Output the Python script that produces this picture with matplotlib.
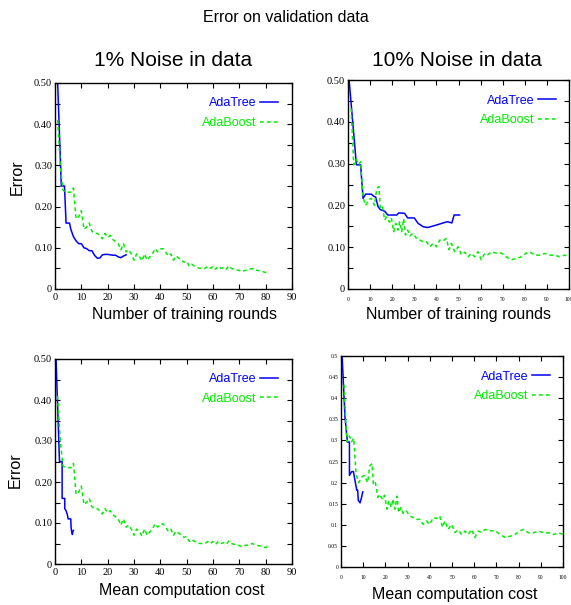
import matplotlib
matplotlib.use('Agg')
import matplotlib.pyplot as plt

# 1% noise, error against training rounds
tl_tree_x = [1, 2.4, 3.6, 4.2, 5.5, 6, 7, 8, 9, 10, 11, 12, 13, 14, 15, 16, 17, 18, 19, 20, 21, 22, 23, 24, 25, 26, 27]
tl_tree_y = [0.50, 0.25, 0.25, 0.16, 0.16, 0.145, 0.127, 0.117, 0.11, 0.11, 0.10, 0.098, 0.093, 0.093, 0.082,
             0.075, 0.075, 0.083, 0.084, 0.084, 0.083, 0.082, 0.082, 0.078, 0.076, 0.08, 0.083]
boost1_x = list(range(1, 82))
boost1_y = [0.41, 0.30, 0.24, 0.235, 0.235, 0.235, 0.245, 0.17, 0.175, 0.19,
            0.145, 0.15, 0.16, 0.14, 0.135, 0.135, 0.13, 0.122, 0.135, 0.125,
            0.13, 0.12, 0.115, 0.11, 0.095, 0.11, 0.09, 0.095, 0.085, 0.07,
            0.085, 0.08, 0.068, 0.085, 0.07, 0.078, 0.085, 0.098, 0.09, 0.097,
            0.098, 0.09, 0.08, 0.085, 0.07, 0.08, 0.075, 0.07, 0.065, 0.067,
            0.055, 0.06, 0.055, 0.052, 0.05, 0.05, 0.05, 0.055, 0.05, 0.055,
            0.048, 0.055, 0.05, 0.052, 0.048, 0.056, 0.05, 0.048, 0.046, 0.045,
            0.042, 0.045, 0.046, 0.048, 0.05, 0.046, 0.045, 0.044, 0.042, 0.04,
            0.044]

# 10% noise, error against training rounds
tr_tree_x = [0.5, 3.8, 5.7, 6.8, 8, 10.5, 11.6, 12.5, 13.6, 14.6, 16.6, 18, 22, 23, 25.6, 27, 30, 31.7,
             34, 36, 40, 43, 45, 47, 48, 50.5]
tr_tree_y = [0.5, 0.297, 0.297, 0.217, 0.227, 0.227, 0.222, 0.22, 0.197, 0.19, 0.186, 0.177, 0.177, 0.182,
             0.181, 0.17, 0.17, 0.157, 0.149, 0.147, 0.153, 0.158, 0.161, 0.158, 0.177, 0.177]
boost10_x = [1.4, 2.6, 3.8, 4.8, 5.7, 6.8, 8, 9.3, 10.5, 12, 13, 14, 14.6, 15.5, 16.6, 17.3, 18.8, 19.6,
             20.7, 21.6, 22.6, 23.4, 24.3, 25.2, 26, 27, 28, 29.4, 31, 32.5, 34, 35.5, 37, 38.5, 40, 41.5,
             43, 44.5, 45.7, 46.8, 48.3, 49.8, 51.3, 52.8, 54.3, 55.8, 57.3, 58.8, 60.3, 61.8, 63.3, 64.9,
             67, 69.4, 71.6, 73.9, 76.2, 78.4, 80.7, 82.2, 84.5, 86.7, 89, 91.3, 93.5, 95.8, 98, 100]
boost10_y = [0.432, 0.297, 0.31, 0.297, 0.305, 0.22, 0.2, 0.213, 0.217, 0.2, 0.24, 0.245, 0.195, 0.2,
             0.165, 0.172, 0.16, 0.17, 0.137, 0.157, 0.141, 0.161, 0.137, 0.168, 0.129, 0.141, 0.127,
             0.133, 0.121, 0.117, 0.113, 0.113, 0.101, 0.109, 0.101, 0.117, 0.115, 0.121, 0.094, 0.109,
             0.089, 0.101, 0.082, 0.088, 0.077, 0.085, 0.077, 0.089, 0.07, 0.085, 0.082, 0.089, 0.086,
             0.086, 0.077, 0.07, 0.073, 0.077, 0.086, 0.089, 0.081, 0.081, 0.085, 0.081, 0.081, 0.077,
             0.081, 0.077]

# AdaTree against mean computation cost
bl_tree_x = [0.4, 1.7, 2.7, 2.7, 3.7, 3.7, 4.2, 4.7, 5.0, 6.0, 6.1, 6.3, 6.5, 6.6, 6.8, 7.0]
bl_tree_y = [0.50, 0.25, 0.25, 0.16, 0.16, 0.135, 0.13, 0.12, 0.11, 0.11, 0.09, 0.08, 0.075, 0.072, 0.08, 0.082]
br_tree_x = [0.5, 1.8, 2.9, 3.8, 3.8, 4.8, 5.6, 6.3, 7.1, 7.5, 7.8, 8.6, 9.3, 9.8]
br_tree_y = [0.5, 0.355, 0.296, 0.296, 0.217, 0.226, 0.226, 0.205, 0.182, 0.182, 0.158, 0.152, 0.166, 0.178]

tree_color = '#0000ff'
boost_color = '#00ee00'
serif = 'Liberation Serif'
sans = 'Liberation Sans'

fig = plt.figure(figsize=(5.71, 6.05), dpi=100)

W, H = 571.0, 605.0
def px_axes(x0, y0, x1, y1):
    return fig.add_axes([x0 / W, 1 - y1 / H, (x1 - x0) / W, (y1 - y0) / H])

ax_tl = px_axes(55, 83, 292, 289)
ax_tr = px_axes(348, 80, 569, 289)
ax_bl = px_axes(55, 359, 292, 564)
ax_br = px_axes(341, 356, 563, 567)


def style(ax, xmax, xsize, ysize, yticks, ylabels, yminor, xpad=3):
    ax.set_xlim(0, xmax)
    ax.set_ylim(0, 0.5)
    ax.set_xticks(range(0, xmax + 1, 10))
    ax.set_xticklabels([str(v) for v in range(0, xmax + 1, 10)])
    ax.set_yticks(yticks)
    ax.set_yticklabels(ylabels)
    if yminor:
        ax.set_yticks(yminor, minor=True)
    ax.tick_params(which='both', direction='in', top=True, right=True, length=3.5, width=0.8)
    ax.tick_params(axis='x', labelsize=xsize, pad=xpad)
    ax.tick_params(axis='y', labelsize=ysize, pad=2)
    for lab in ax.get_xticklabels() + ax.get_yticklabels():
        lab.set_family(serif)
    for s in ax.spines.values():
        s.set_linewidth(1.0)


def curves(ax, tx, ty, bx, by):
    ax.plot(tx, ty, color=tree_color, lw=1.1, label='AdaTree')
    ax.plot(bx, by, color=boost_color, lw=1.1, dashes=(2.5, 2), label='AdaBoost')
    ax.legend(loc='upper right', bbox_to_anchor=(0.94, 0.93), frameon=False,
              markerfirst=False, handlelength=1.4, handletextpad=0.3,
              labelspacing=0.6, borderpad=0, borderaxespad=0,
              prop={'family': sans, 'size': 9}, labelcolor='linecolor')


big_ticks = [0, 0.1, 0.2, 0.3, 0.4, 0.5]
big_labels = ['0', '0.10', '0.20', '0.30', '0.40', '0.50']
minor = [0.05, 0.15, 0.25, 0.35, 0.45]

curves(ax_tl, tl_tree_x, tl_tree_y, boost1_x, boost1_y)
style(ax_tl, 90, 7.5, 7.5, big_ticks, big_labels, minor)

curves(ax_tr, tr_tree_x, tr_tree_y, boost10_x, boost10_y)
style(ax_tr, 100, 4, 7.5, big_ticks, big_labels, minor, xpad=6)

curves(ax_bl, bl_tree_x, bl_tree_y, boost1_x, boost1_y)
style(ax_bl, 90, 7.5, 7.5, big_ticks, big_labels, minor)

curves(ax_br, br_tree_x, br_tree_y, boost10_x, boost10_y)
fine_ticks = [0, 0.05, 0.1, 0.15, 0.2, 0.25, 0.3, 0.35, 0.4, 0.45, 0.5]
fine_labels = ['0', '0.05', '0.1', '0.15', '0.2', '0.25', '0.3', '0.35', '0.4', '0.45', '0.5']
style(ax_br, 100, 4, 4, fine_ticks, fine_labels, None, xpad=6)

# Titles and axis labels
fig.text(0.5, 1 - 18 / H, 'Error on validation data', ha='center', va='center', family=sans, fontsize=11.5)
fig.text(173 / W, 1 - 60 / H, '1% Noise in data', ha='center', va='center', family=sans, fontsize=15)
fig.text(457 / W, 1 - 60 / H, '10% Noise in data', ha='center', va='center', family=sans, fontsize=15)

fig.text(185 / W, 1 - 315 / H, 'Number of training rounds', ha='center', va='center', family=sans, fontsize=11.5)
fig.text(458 / W, 1 - 315 / H, 'Number of training rounds', ha='center', va='center', family=sans, fontsize=11.5)
fig.text(182 / W, 1 - 591 / H, 'Mean computation cost', ha='center', va='center', family=sans, fontsize=11.5)
fig.text(455 / W, 1 - 595 / H, 'Mean computation cost', ha='center', va='center', family=sans, fontsize=11.5)
fig.text(17 / W, 1 - 177 / H, 'Error', ha='center', va='center', rotation=90, family=sans, fontsize=11.5)
fig.text(15 / W, 1 - 470 / H, 'Error', ha='center', va='center', rotation=90, family=sans, fontsize=11.5)

fig.savefig('out.png', dpi=100)
